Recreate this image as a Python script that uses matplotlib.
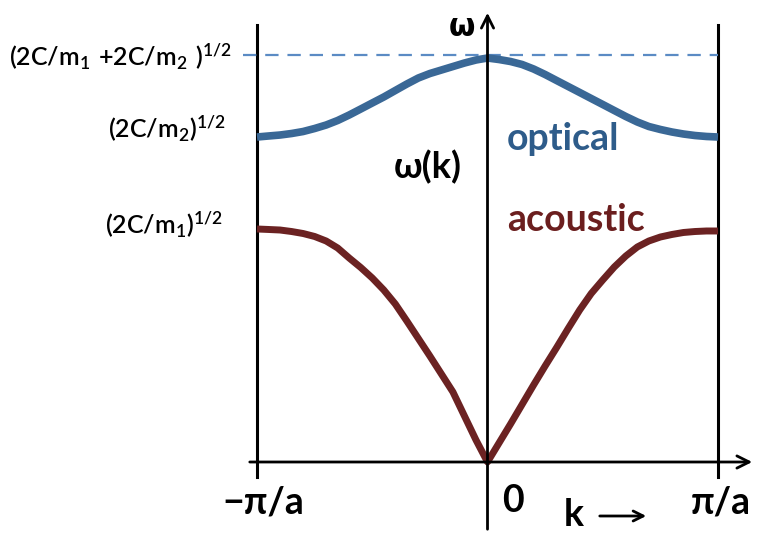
import numpy as np
import matplotlib
matplotlib.use("Agg")
import matplotlib.pyplot as plt


# =========================================================
# DATOS
# =========================================================

# k en unidades de pi/a, de -1 a 1 en pasos de 0.05
k = np.linspace(-1.0, 1.0, 41)

# rama óptica (omega normalizado a omega_max = 1)
w_optical = [0.7985, 0.8010, 0.8034, 0.8071, 0.8120, 0.8194, 0.8280, 0.8391,
             0.8526, 0.8673, 0.8821, 0.8968, 0.9128, 0.9287, 0.9435, 0.9545,
             0.9631, 0.9717, 0.9803, 0.9877, 0.9926,
             0.9889, 0.9840, 0.9767, 0.9656, 0.9521, 0.9373, 0.9226, 0.9079,
             0.8931, 0.8784, 0.8636, 0.8489, 0.8354, 0.8243, 0.8170, 0.8108,
             0.8059, 0.8022, 0.7998, 0.7985]

# rama acústica
w_acoustic = [0.5725, 0.5713, 0.5700, 0.5663, 0.5614, 0.5541, 0.5430, 0.5258,
              0.5012, 0.4779, 0.4521, 0.4226, 0.3882, 0.3464, 0.3034, 0.2604,
              0.2162, 0.1720, 0.1130, 0.0541, 0.0,
              0.0467, 0.0934, 0.1413, 0.1892, 0.2359, 0.2813, 0.3280, 0.3735,
              0.4140, 0.4472, 0.4791, 0.5061, 0.5283, 0.5430, 0.5528, 0.5590,
              0.5639, 0.5663, 0.5676, 0.5676]

w_max = 1.0

label_max = r"$\mathregular{(2C/m_1\ {+}2C/m_2\ )^{1/2}}$"
label_m2 = r"$\mathregular{(2C/m_2)^{1/2}}$"
label_m1 = r"$\mathregular{(2C/m_1)^{1/2}}$"

BLUE = "#3A6896"
BLUE_TXT = "#2E5C8A"
RED = "#6B2222"
RED_TXT = "#6B1E1E"


# =========================================================
# FIGURA
# =========================================================

W, H = 766, 546
fig = plt.figure(figsize=(W / 100, H / 100), dpi=100)
ax = fig.add_axes([0, 0, 1, 1])

# escala: k=-1 -> 257 px, k=1 -> 718 px ; w=0 -> 462 px, w=1 -> 55 px
sx = 230.5
x0 = 487.5
sy = 407.0
y0 = 462.0

ax.set_xlim((0 - x0) / sx, (W - x0) / sx)
ax.set_ylim((y0 - H) / sy, y0 / sy)
ax.axis("off")


def px(x, y):
    return (x - x0) / sx, (y0 - y) / sy


plt.rcParams["mathtext.fontset"] = "custom"
plt.rcParams["mathtext.rm"] = "Lato:semibold"

# líneas verticales de la zona de Brillouin
for kb in [-1, 1]:
    ax.plot([kb, kb], [px(0, 25)[1], px(0, 477)[1]], color="black", lw=2.2)

# eje horizontal
ax.annotate("", xy=px(755, 462), xytext=px(247, 462),
            arrowprops=dict(arrowstyle="->", color="black", lw=2.0,
                            mutation_scale=22))
# eje vertical
ax.annotate("", xy=px(487.5, 10), xytext=px(487.5, 532),
            arrowprops=dict(arrowstyle="->", color="black", lw=2.0,
                            mutation_scale=22))

# línea discontinua en omega_max
ax.plot([px(243, 0)[0], 1.0], [w_max, w_max], color="#5B8BC4", lw=1.6,
        dashes=(6, 4))

# curvas de dispersión
ax.plot(k, w_optical, color=BLUE, lw=5.5, solid_capstyle="butt",
        solid_joinstyle="round")
ax.plot(k, w_acoustic, color=RED, lw=5.0, solid_capstyle="butt",
        solid_joinstyle="round")

# textos
ax.text(*px(232, 57), label_max, fontsize=18, ha="right", va="center",
        family="Lato", weight="semibold")
ax.text(*px(226, 129), label_m2, fontsize=18, ha="right", va="center",
        family="Lato", weight="semibold")
ax.text(*px(223, 225), label_m1, fontsize=18, ha="right", va="center",
        family="Lato", weight="semibold")

ax.text(*px(462, 27), "ω", fontsize=22, ha="center", va="center",
        family="DejaVu Sans", weight="bold")
ax.text(*px(428, 167), "ω(k)", fontsize=26, ha="center", va="center",
        family="Lato", weight="bold")

ax.text(*px(507, 150), "optical", fontsize=27, ha="left", va="baseline",
        family="Lato", weight="bold", color=BLUE_TXT)
ax.text(*px(507, 231), "acoustic", fontsize=27, ha="left", va="baseline",
        family="Lato", weight="bold", color=RED_TXT)

ax.text(*px(263, 503), "−π/a", fontsize=27, ha="center", va="center",
        family="Lato", weight="bold")
ax.text(*px(513, 501), "0", fontsize=27, ha="center", va="center",
        family="Lato", weight="bold")
ax.text(*px(721, 503), "π/a", fontsize=27, ha="center", va="center",
        family="Lato", weight="bold")
ax.text(*px(574, 515), "k", fontsize=27, ha="center", va="center",
        family="Lato", weight="bold")
ax.annotate("", xy=px(649, 516), xytext=px(597, 516),
            arrowprops=dict(arrowstyle="->", color="black", lw=2.0,
                            mutation_scale=18))

fig.savefig("out.png", dpi=100)
